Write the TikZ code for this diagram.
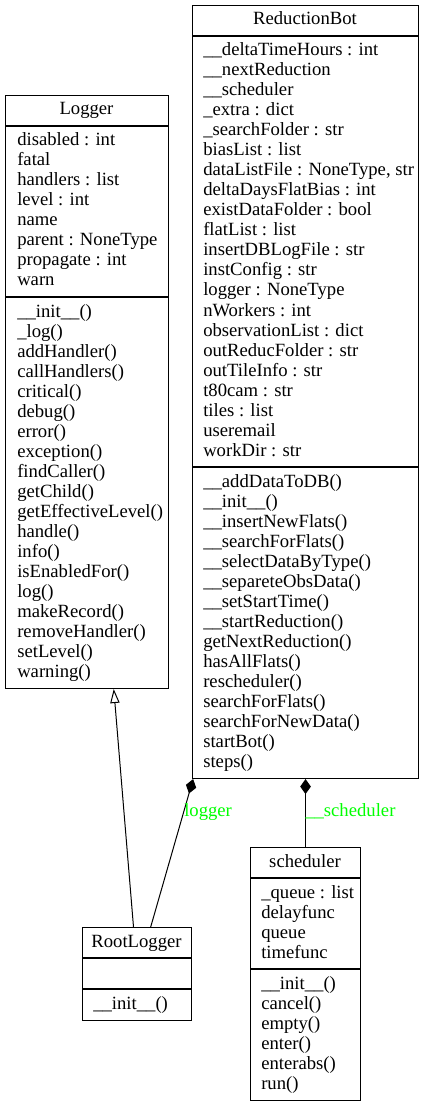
\documentclass[tikz,border=0pt]{standalone}
\usepackage{fontspec}
\setmainfont{Liberation Serif}
\usetikzlibrary{arrows.meta,calc}

\begin{document}
\begin{tikzpicture}[x=0.75pt,y=-0.75pt,
  classbox/.style 2 args={draw=black, line width=0.8pt, rectangle, inner sep=0pt,
    anchor=north west, minimum width={#1*0.75pt}, minimum height={#2*0.75pt}},
  member/.style={anchor=base west, inner sep=0pt, font=\fontsize{14}{16}\selectfont},
  ctitle/.style={anchor=base, inner sep=0pt, font=\fontsize{14}{16}\selectfont},
  sep/.style={draw=black, line width=0.8pt},
  rel/.style={draw=black, line width=0.75pt},
  rlabel/.style={anchor=base west, inner sep=0pt, text=green, font=\fontsize{14}{16}\selectfont}]
\useasboundingbox (0,0) rectangle (424,1105);

% ---------- Logger ----------
\node[classbox={163}{593}] (logger) at (5,95) {};
\draw[sep] (logger.west |- 0,126) -- (logger.east |- 0,126);
\draw[sep] (logger.west |- 0,297) -- (logger.east |- 0,297);
\node[ctitle] (logger-t) at (86.5,115) {Logger};
\foreach \t [count=\i from 0] in {disabled : int, fatal, handlers : list, level : int,
    name, parent : NoneType, propagate : int, warn}
  \node[member] (logger-a\i) at (17,{146+20*\i}) {\t};
\foreach \t [count=\i from 0] in {\_\_init\_\_(), \_log(), addHandler(), callHandlers(),
    critical(), debug(), error(), exception(), findCaller(), getChild(),
    getEffectiveLevel(), handle(), info(), isEnabledFor(), log(), makeRecord(),
    removeHandler(), setLevel(), warning()}
  \node[member] (logger-m\i) at (17,{317+20*\i}) {\t};

% ---------- ReductionBot ----------
\node[classbox={226}{773}] (rbot) at (192,5) {};
\draw[sep] (rbot.west |- 0,36) -- (rbot.east |- 0,36);
\draw[sep] (rbot.west |- 0,467) -- (rbot.east |- 0,467);
\node[ctitle] (rbot-t) at (305,25) {ReductionBot};
\foreach \t [count=\i from 0] in {\_\_deltaTimeHours : int, \_\_nextReduction, \_\_scheduler,
    \_extra : dict, \_searchFolder : str, biasList : list, {dataListFile : NoneType, str},
    deltaDaysFlatBias : int, existDataFolder : bool, flatList : list,
    insertDBLogFile : str, instConfig : str, logger : NoneType, nWorkers : int,
    observationList : dict, outReducFolder : str, outTileInfo : str, t80cam : str,
    tiles : list, useremail, workDir : str}
  \node[member] (rbot-a\i) at (203,{56+20*\i}) {\t};
\foreach \t [count=\i from 0] in {\_\_addDataToDB(), \_\_init\_\_(), \_\_insertNewFlats(),
    \_\_searchForFlats(), \_\_selectDataByType(), \_\_separeteObsData(),
    \_\_setStartTime(), \_\_startReduction(), getNextReduction(), hasAllFlats(),
    rescheduler(), searchForFlats(), searchForNewData(), startBot(), steps()}
  \node[member] (rbot-m\i) at (203,{487+20*\i}) {\t};

% ---------- RootLogger ----------
\node[classbox={109}{93}] (rootl) at (82,927) {};
\draw[sep] (rootl.west |- 0,958) -- (rootl.east |- 0,958);
\draw[sep] (rootl.west |- 0,989) -- (rootl.east |- 0,989);
\node[ctitle] (rootl-t) at (136.5,947) {RootLogger};
\node[member] (rootl-m0) at (93,1009) {\_\_init\_\_()};

% ---------- scheduler ----------
\node[classbox={110}{253}] (sched) at (250,847) {};
\draw[sep] (sched.west |- 0,878) -- (sched.east |- 0,878);
\draw[sep] (sched.west |- 0,969) -- (sched.east |- 0,969);
\node[ctitle] (sched-t) at (305,867) {scheduler};
\foreach \t [count=\i from 0] in {\_queue : list, delayfunc, queue, timefunc}
  \node[member] (sched-a\i) at (261,{898+20*\i}) {\t};
\foreach \t [count=\i from 0] in {\_\_init\_\_(), cancel(), empty(), enter(), enterabs(), run()}
  \node[member] (sched-m\i) at (261,{989+20*\i}) {\t};

% ---------- relations ----------
% RootLogger inherits from Logger
\draw[rel, -{Triangle[open, length=10.5pt, width=7pt, line width=0.75pt]}]
  ($(rootl.north west)!0.468!(rootl.north east)$) --
  ($(logger.south west)!0.663!(logger.south east)$);
% ReductionBot owns a RootLogger as logger
\draw[rel, {Diamond[length=11.25pt, width=8pt]}-]
  ($(rbot.south west)!0.005!(rbot.south east)$) --
  ($(rootl.north west)!0.624!(rootl.north east)$);
\node[rlabel] (lbl-logger) at (184,816) {logger};
% ReductionBot owns a scheduler as __scheduler
\draw[rel, {Diamond[length=11.25pt, width=8pt]}-] (rbot.south) -- (sched.north);
\node[rlabel] (lbl-sched) at (305,816) {\_\_scheduler};
\end{tikzpicture}
\end{document}
